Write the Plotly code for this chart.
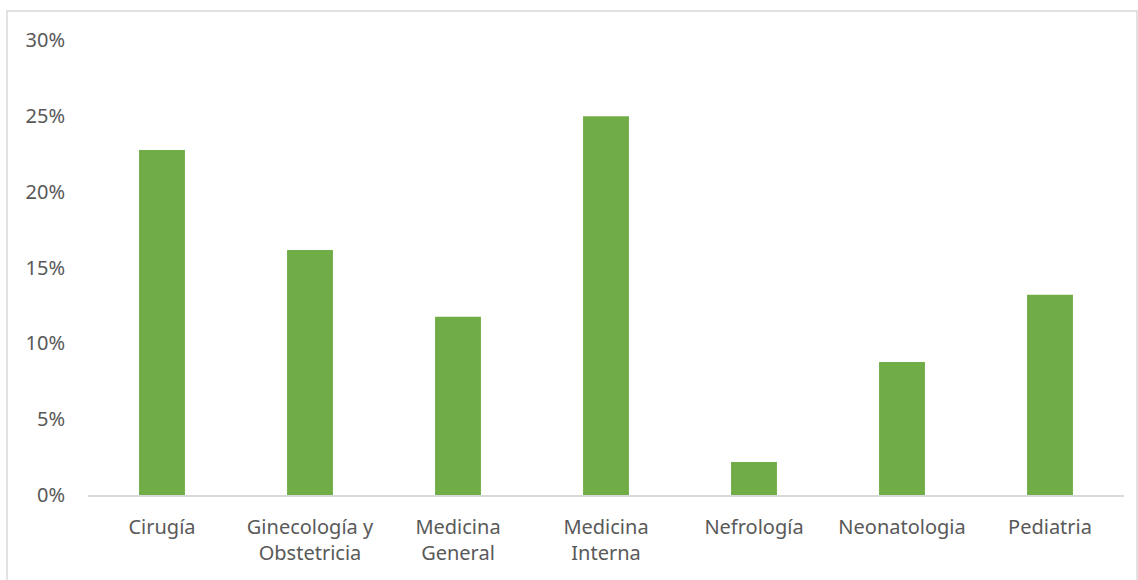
import plotly.graph_objects as go

# Share of cases by service
services = ["Cirugía", "Ginecología y<br>Obstetricia", "Medicina<br>General",
            "Medicina<br>Interna", "Nefrología", "Neonatologia", "Pediatria"]
shares = [0.2275, 0.1615, 0.1175, 0.2498, 0.0218, 0.0877, 0.1320]
y_ticks = [0, 0.05, 0.10, 0.15, 0.20, 0.25, 0.30]

W, H = 1138, 580
L, R, T, B = 88, 14, 40, 85
plot_w = W - L - R
plot_h = H - T - B

fig = go.Figure(go.Bar(
    x=services, y=shares,
    marker=dict(color="#70ad47", line=dict(width=0)),
    hoverinfo="x+y",
))

font = dict(family="Noto Sans, Open Sans, sans-serif", size=20, color="#595959")

fig.update_layout(
    width=W, height=H,
    margin=dict(l=L, r=R, t=T, b=B, pad=0),
    paper_bgcolor="white", plot_bgcolor="white",
    bargap=0.69,
    showlegend=False,
    font=font,
    xaxis=dict(
        showline=True, linecolor="#d9d9d9", linewidth=1.5,
        showgrid=False, ticks="", tickfont=font,
        ticklabelstandoff=13, fixedrange=True,
    ),
    yaxis=dict(
        range=[0, 0.30], tickvals=y_ticks, tickformat=".0%",
        showline=False, showgrid=False, zeroline=False, ticks="",
        tickfont=font, ticklabelstandoff=22, fixedrange=True,
    ),
    shapes=[dict(
        type="rect", xref="paper", yref="paper",
        x0=(7 - L) / plot_w, x1=(W - 1 - L) / plot_w,
        y0=(T + plot_h - (H + 10)) / plot_h, y1=(T + plot_h - 11) / plot_h,
        line=dict(color="#d9d9d9", width=1.5), fillcolor="rgba(0,0,0,0)",
        layer="below",
    )],
)

fig.write_html("out.html")
